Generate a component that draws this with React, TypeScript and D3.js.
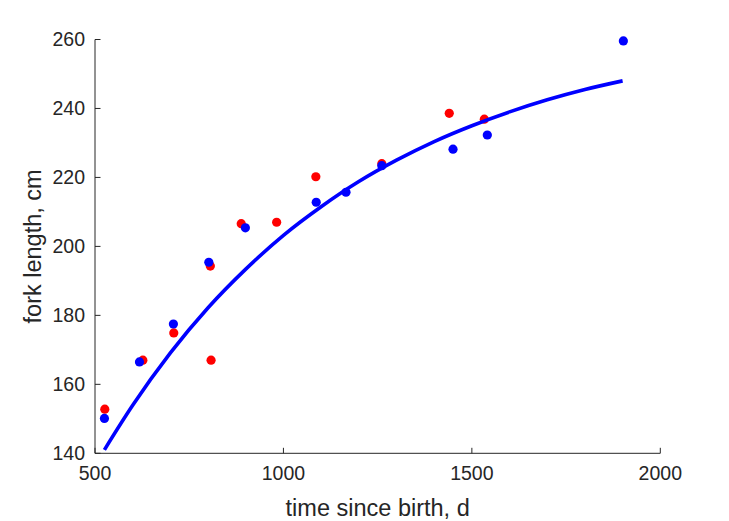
import React from "react";
import * as d3 from "d3";

// Observed data (time since birth in days, fork length in cm)
const redTime = [526, 627, 709, 806, 808, 888, 982, 1086, 1261, 1440, 1533];
const redLength = [152.8, 167.0, 174.9, 194.3, 167.0, 206.6, 207.0, 220.2, 224.0, 238.6, 236.9];

const blueTime = [525, 618, 708, 802, 899, 1087, 1166, 1261, 1450, 1541, 1902];
const blueLength = [150.1, 166.5, 177.5, 195.4, 205.4, 212.8, 215.7, 223.4, 228.2, 232.3, 259.6];

// Fitted growth curve samples
const curveTime = [525, 600, 700, 800, 900, 1000, 1100, 1200, 1300, 1400, 1500, 1600, 1700, 1800, 1900];
const curveLength = [141.0, 153.9, 169.1, 182.2, 193.4, 203.2, 211.5, 218.8, 225.0, 230.4, 235.0, 239.0, 242.5, 245.5, 248.0];

const xTicks = [500, 1000, 1500, 2000];
const yTicks = [140, 160, 180, 200, 220, 240, 260];

const xLabel = "time since birth, d";
const yLabel = "fork length, cm";

const W = 729;
const H = 521;
const left = 95;
const right = 660.3;
const top = 39.5;
const bottom = 453.3;
const axisColor = "#262626";
const font = "'Liberation Sans', Arial, sans-serif";

export default function App() {
  const x = d3.scaleLinear().domain([500, 2000]).range([left, right]);
  const y = d3.scaleLinear().domain([140, 260]).range([bottom, top]);

  const line = d3
    .line<number>()
    .x((_, i) => x(curveTime[i]))
    .y((d) => y(d))
    .curve(d3.curveMonotoneX);

  return (
    <div style={{ position: "absolute", left: 0, top: 0 }}>
      <svg width={W} height={H} style={{ display: "block", background: "#fff" }}>
        {/* axes */}
        <line x1={left} x2={left} y1={top} y2={bottom} stroke={axisColor} strokeWidth={1} />
        <line x1={left} x2={right} y1={bottom} y2={bottom} stroke={axisColor} strokeWidth={1} />
        {xTicks.map((t) => (
          <g key={"x" + t}>
            <line x1={x(t)} x2={x(t)} y1={bottom} y2={bottom - 5.5} stroke={axisColor} strokeWidth={1} />
            <text
              x={x(t)}
              y={bottom + 27}
              textAnchor="middle"
              fontFamily={font}
              fontSize={19.5}
              fill={axisColor}
            >
              {t}
            </text>
          </g>
        ))}
        {yTicks.map((t) => (
          <g key={"y" + t}>
            <line x1={left} x2={left + 5.5} y1={y(t)} y2={y(t)} stroke={axisColor} strokeWidth={1} />
            <text
              x={left - 10}
              y={y(t)}
              dy="0.35em"
              textAnchor="end"
              fontFamily={font}
              fontSize={19.5}
              fill={axisColor}
            >
              {t}
            </text>
          </g>
        ))}
        <text
          x={(left + right) / 2}
          y={bottom + 62.5}
          textAnchor="middle"
          fontFamily={font}
          fontSize={23.5}
          fill={axisColor}
        >
          {xLabel}
        </text>
        <text
          transform={`translate(${left - 54},${(top + bottom) / 2}) rotate(-90)`}
          textAnchor="middle"
          fontFamily={font}
          fontSize={23.5}
          fill={axisColor}
        >
          {yLabel}
        </text>

        {/* data */}
        {redTime.map((t, i) => (
          <circle key={"r" + i} cx={x(t)} cy={y(redLength[i])} r={4.6} fill="#ff0000" />
        ))}
        {blueTime.map((t, i) => (
          <circle key={"b" + i} cx={x(t)} cy={y(blueLength[i])} r={4.6} fill="#0000ff" />
        ))}
        <path d={line(curveLength) || ""} fill="none" stroke="#0000ff" strokeWidth={3.6} />
      </svg>
    </div>
  );
}
